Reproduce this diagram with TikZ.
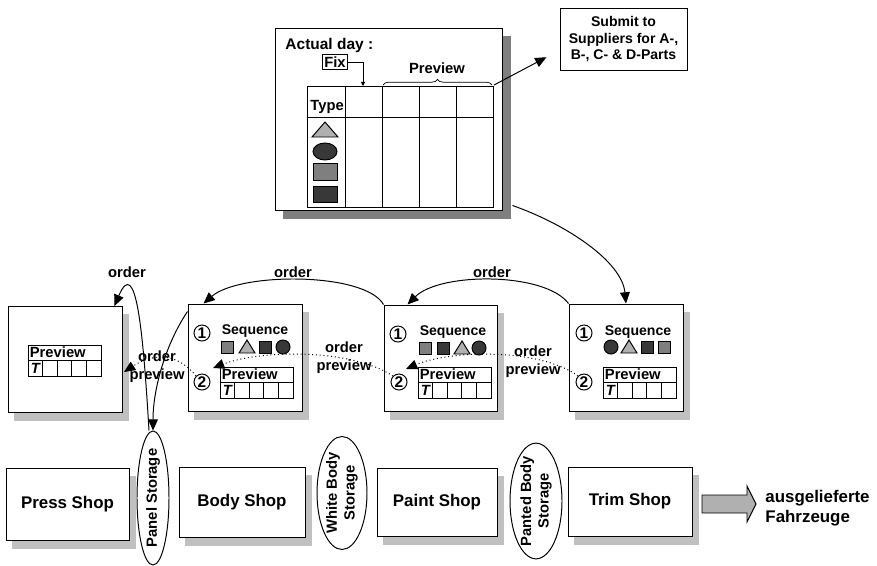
\documentclass[tikz,border=0pt]{standalone}
\usepackage{fontspec}
\setmainfont{Liberation Sans}
\usetikzlibrary{shapes.geometric,arrows.meta,decorations.pathreplacing}

\definecolor{lightgr}{HTML}{B0B0B0}
\definecolor{midgr}{HTML}{7F7F7F}
\definecolor{darkgr}{HTML}{383838}
\definecolor{shadowgr}{HTML}{C0C0C0}

\newcommand{\pxu}{0.025cm}
\newcommand{\seqsq}[3]{\draw[fill=#1] (#2-6,#3-6) rectangle (#2+6,#3+6);}
\newcommand{\seqtri}[2]{\draw[fill=lightgr] (#1-8,#2+6) -- (#1+8,#2+6) -- (#1,#2-7) -- cycle;}
\newcommand{\seqdot}[2]{\draw[fill=darkgr] (#1,#2) circle[radius=7*\pxu];}
\newcommand{\prevtab}[2]{%
  \begin{scope}[shift={(#1,#2)}]
    \draw (0,0) rectangle (73,31);
    \draw (0,15) -- (73,15);
    \foreach \i in {1,...,4} \draw (\i*14.6,15) -- (\i*14.6,31);
    \node[anchor=west,inner sep=1pt,font=\fontsize{10.5}{12}\selectfont\bfseries] at (0,7.5) {Preview};
    \node[inner sep=0pt,font=\fontsize{10.5}{12}\selectfont\bfseries\itshape] at (7.3,23) {T};
  \end{scope}}

\begin{document}
\begin{tikzpicture}[x=0.025cm,y=-0.025cm,line width=0.7pt,
  >={Triangle[length=8pt,width=7pt]},
  lbl/.style={font=\fontsize{10.5}{13}\selectfont\bfseries,align=center,inner sep=0pt},
  shop/.style={draw,fill=white,font=\fontsize{12}{14}\selectfont\bfseries},
  ordbox/.style={draw,fill=white},
  shadowband/.style={draw=#1,fill=#1,line width=0pt},
  num/.style={circle,draw,inner sep=0pt,minimum size=0.4cm,font=\fontsize{11}{11}\selectfont\bfseries},
  storage/.style={ellipse,draw,fill=white,inner sep=-3pt,rotate=90,align=center,
    font=\fontsize{10.5}{12.5}\selectfont\bfseries}]
\useasboundingbox (0,0) rectangle (877,566);

% plan
\node[draw,fill=white,minimum width=227*\pxu,minimum height=182*\pxu] (plan) at (388.5,119) {};
\draw[shadowband=midgr] (503,36) rectangle (510,218) (283,211) rectangle (510,218);
\node[anchor=west,inner sep=0pt,font=\fontsize{11}{13}\selectfont\bfseries] (actday) at (285,45) {Actual day :};
\node[draw,inner sep=1.5pt,line width=0.5pt,font=\fontsize{10.5}{12}\selectfont\bfseries] (fix) at (335,62) {Fix};
\node[lbl] (prevlbl) at (437,68) {Preview};
\coordinate (fixcol) at (363,86);
\coordinate (bracer) at (494,85);
\draw[-{Triangle[length=3pt,width=3pt]},line width=0.5pt] (fix.east) -| (fixcol);
\draw[decorate,decoration={brace,amplitude=4pt},line width=0.5pt] (383,85) -- (492,85);
\draw (307,86) rectangle (493,207);
\draw (307,117) -- (493,117);
\foreach \cx in {345,382,419,456} \draw (\cx,86) -- (\cx,207);
\node[anchor=west,inner sep=0pt,font=\fontsize{10.5}{12}\selectfont\bfseries] (typelbl) at (310,107) {Type};
\draw[fill=lightgr] (312,137) -- (338,137) -- (325,122) -- cycle;
\draw[fill=darkgr] (325,151.5) ellipse [x radius=12*\pxu,y radius=8.5*\pxu];
\draw[fill=midgr] (313,163) rectangle (337,180);
\draw[fill=darkgr] (313,186) rectangle (337,202);

\node[draw,fill=white,minimum width=127*\pxu,minimum height=62*\pxu,align=center,
  font=\fontsize{10}{11.5}\selectfont\bfseries] (supp) at (623.5,39) {Submit to\\Suppliers for A-,\\B-, C- \& D-Parts};
\draw[->,shorten >=0.37cm] (bracer) -- (supp.190);

% order boxes
\node[ordbox,minimum width=114*\pxu,minimum height=106*\pxu] (ordL) at (65,359.5) {};
\node[ordbox,minimum width=114*\pxu,minimum height=107*\pxu] (ord1) at (245,357.5) {};
\node[ordbox,minimum width=113*\pxu,minimum height=106*\pxu] (ord2) at (440.5,358) {};
\node[ordbox,minimum width=114*\pxu,minimum height=107*\pxu] (ord3) at (626,357.5) {};
\draw[shadowband=shadowgr] (123,314) rectangle (128,420) (14,413) rectangle (128,420);
\draw[shadowband=shadowgr] (303,312) rectangle (308,419) (194,412) rectangle (308,419);
\draw[shadowband=shadowgr] (498,313) rectangle (503,419) (390,412) rectangle (503,419);
\draw[shadowband=shadowgr] (684,312) rectangle (689,419) (575,412) rectangle (689,419);

\prevtab{28}{345}
\prevtab{220}{367}
\prevtab{418}{367}
\prevtab{603}{367}

\node[num] (c11) at (202,333) {1};
\node[num] (c12) at (202,382) {2};
\node[num] (c21) at (398,334) {1};
\node[num] (c22) at (399,382) {2};
\node[num] (c31) at (584,333) {1};
\node[num] (c32) at (584,382) {2};

\node[lbl,font=\fontsize{10}{12}\selectfont\bfseries] (seq1) at (255,331) {Sequence};
\node[lbl,font=\fontsize{10}{12}\selectfont\bfseries] (seq2) at (453,332) {Sequence};
\node[lbl,font=\fontsize{10}{12}\selectfont\bfseries] (seq3) at (638,332) {Sequence};
\seqsq{midgr}{227}{347} \seqtri{247}{347} \seqsq{darkgr}{265}{347} \seqdot{283}{347}
\seqsq{midgr}{425}{348} \seqsq{darkgr}{443}{348} \seqtri{462}{348} \seqdot{479}{348}
\seqdot{611}{347} \seqtri{629}{347} \seqsq{darkgr}{647}{347} \seqsq{midgr}{664}{347}

% shops
\node[shop,minimum width=123*\pxu,minimum height=72*\pxu] (press) at (67.5,504) {Press Shop};
\node[shop,minimum width=126*\pxu,minimum height=70*\pxu] (body) at (242,502) {Body Shop};
\node[shop,minimum width=120*\pxu,minimum height=68*\pxu] (paint) at (437,502) {Paint Shop};
\node[shop,minimum width=124*\pxu,minimum height=69*\pxu] (trim) at (630,501.5) {Trim Shop};
\draw[shadowband=shadowgr] (130,476) rectangle (135,548) (12,541) rectangle (135,548);
\draw[shadowband=shadowgr] (306,475) rectangle (311,545) (185,538) rectangle (311,545);
\draw[shadowband=shadowgr] (498,476) rectangle (503,544) (383,537) rectangle (503,544);
\draw[shadowband=shadowgr] (693,475) rectangle (698,544) (574,537) rectangle (698,544);
\node[storage,minimum width=134*\pxu,minimum height=32*\pxu] (panel) at (153,498) {Panel Storage};
\node[storage,minimum width=113*\pxu,minimum height=50*\pxu] (white) at (342,493) {White Body\\Storage};
\node[storage,minimum width=108*\pxu,minimum height=52*\pxu] (panted) at (536,501) {Panted Body\\Storage};
\draw[fill=lightgr] (702,495) -- (747,495) -- (747,486) -- (756,504) -- (747,522) -- (747,513) -- (702,513) -- cycle;
\node[anchor=west,align=left,inner sep=0pt,font=\fontsize{12}{14}\selectfont\bfseries] (outtxt) at (765,508) {ausgelieferte\\Fahrzeuge};

% orders
\draw[->] ([xshift=10*\pxu,yshift=5*\pxu]plan.south east) .. controls (568,225) and (622,262) .. (ord3.north);
\draw[->] (ord3.north west) .. controls (545,272) and (440,272) .. ([xshift=24*\pxu]ord2.north west);
\draw[->] (ord2.north west) .. controls (365,272) and (240,272) .. ([xshift=16*\pxu]ord1.north west);
\draw[->] ([yshift=-8*\pxu]ord1.north west) .. controls (165,345) and (153,390) .. (panel.east);
\draw[->] ([xshift=-4*\pxu]panel.east) .. controls (143,330) and (136,255) .. ([xshift=-8*\pxu]ordL.north east);
\node[lbl] (ordtxtL) at (127,272) {order};
\node[lbl] (ordtxt1) at (293,272) {order};
\node[lbl] (ordtxt2) at (492,272) {order};

\coordinate (pinL) at (124,372);
\coordinate (pin1) at (213,368);
\coordinate (pin2) at (406,369);
\draw[->,dotted] (c32.north west) .. controls (540,348) and (450,350) .. (pin2);
\draw[->,dotted] (c22.north west) .. controls (350,348) and (260,350) .. (pin1);
\draw[->,dotted] (c12.north west) .. controls (175,350) and (150,355) .. (pinL);
\node[lbl] (optxtL) at (157,367) {order\\preview};
\node[lbl] (optxt1) at (344,358) {order\\preview};
\node[lbl] (optxt2) at (533,362) {order\\preview};
\end{tikzpicture}
\end{document}
